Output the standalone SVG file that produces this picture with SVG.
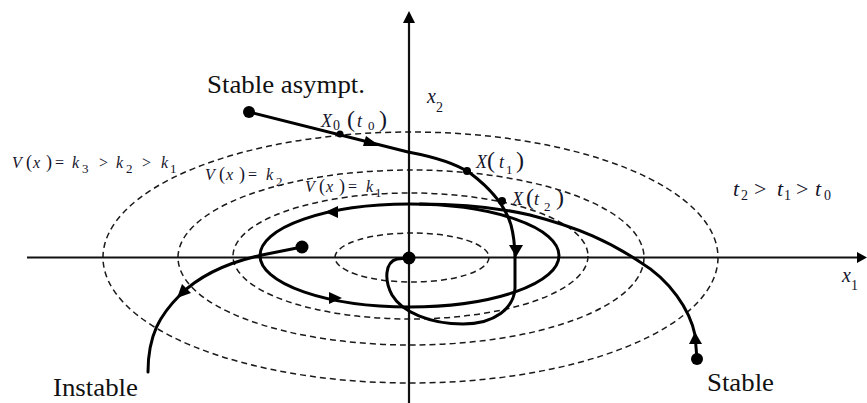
<svg xmlns="http://www.w3.org/2000/svg" width="867" height="403" viewBox="0 0 867 403">
<style>
.lvl{fill:none;stroke:#1a1a1a;stroke-width:1.5;stroke-dasharray:6 4}
.ax{stroke:#111;stroke-width:2.2;fill:none}
.tr{fill:none;stroke:#000;stroke-width:3;stroke-linejoin:round;stroke-linecap:round}
.ah{fill:#000}
.lab{font-family:'Liberation Serif','DejaVu Serif',serif;font-size:25px;fill:#111}
.m{font-family:'Liberation Serif','DejaVu Serif',serif;font-style:italic;fill:#14142a}
.up{font-style:normal}
</style>
<g id="levels">
<ellipse class="lvl" cx="412" cy="257.5" rx="77" ry="24.5"/>
<ellipse class="lvl" cx="410.5" cy="256" rx="177.5" ry="63"/>
<ellipse class="lvl" cx="411" cy="257.5" rx="233" ry="87.5"/>
<ellipse class="lvl" cx="410.5" cy="257.5" rx="307.5" ry="125.5"/>
</g>
<g id="axes">
<line class="ax" x1="27" y1="257.5" x2="859" y2="257.5"/>
<polygon class="ah" points="867,257.5 857,252 857,263"/>
<line class="ax" x1="409" y1="403" x2="409" y2="22"/>
<polygon class="ah" points="409,11 403,23 415,23"/>
</g>
<g id="connectors">
<ellipse class="tr" cx="409.5" cy="255.5" rx="149.5" ry="51.5"/>
<path class="tr" d="M249,112 L408,152 C435,157 455,163 470,173 C490,188 505,205 511,225 C515,240 515,250 515,260 L515,288 C514,308 495,324 463,324 C430,324 402,312 392,295 C384,280 385,262 397,259 L408,258"/>
<path class="tr" d="M697,359 L695,335 C690,310 670,280 640,262 C610,242 580,228 530,215 C500,208 460,204 420,204"/>
<path class="tr" d="M302,247 L262,255 C230,262 200,275 180,295 C160,315 148,335 148,372"/>
<polygon class="ah" points="380,146 366,136 363,146"/>
<polygon class="ah" points="516,257 509,245 523,245"/>
<polygon class="ah" points="325,212 338,206 338,218"/>
<polygon class="ah" points="342,298 329,292 329,304"/>
<polygon class="ah" points="695,332 689,344 702,344"/>
<polygon class="ah" points="177,298 182,284 191,293"/>
</g>
<g id="points">
<circle cx="249" cy="112" r="6"/>
<circle cx="302" cy="247" r="6.5"/>
<circle cx="409" cy="258" r="6.5"/>
<circle cx="697" cy="359" r="6"/>
<circle cx="340" cy="134" r="3.5"/>
<circle cx="467" cy="171" r="4"/>
<circle cx="502" cy="201" r="4"/>
</g>
<g id="labels">
<text class="lab" x="207" y="93" textLength="158" lengthAdjust="spacingAndGlyphs">Stable asympt.</text>
<text class="lab" x="53" y="396" textLength="85" lengthAdjust="spacingAndGlyphs">Instable</text>
<text class="lab" x="707" y="391" textLength="67" lengthAdjust="spacingAndGlyphs">Stable</text>
<text class="m" x="427" y="103" font-size="20">x<tspan font-size="14" dy="9" class="up">2</tspan></text>
<text class="m" x="842" y="282" font-size="20">x<tspan font-size="14" dy="8" class="up">1</tspan></text>
<text class="m" y="127" font-size="18"><tspan x="321">X</tspan><tspan class="up" font-size="14" x="333" y="130">0</tspan><tspan class="up" font-size="24" x="347" y="127">(</tspan><tspan x="357">t</tspan><tspan class="up" font-size="13" x="368" y="130">0</tspan><tspan class="up" font-size="24" x="379" y="127">)</tspan></text>
<text class="m" y="168" font-size="18"><tspan x="476">X</tspan><tspan class="up" font-size="24" x="487">(</tspan><tspan x="499">t</tspan><tspan class="up" font-size="13" x="506" y="174">1</tspan><tspan class="up" font-size="24" x="516" y="168">)</tspan></text>
<text class="m" y="205" font-size="18"><tspan x="512">X</tspan><tspan class="up" font-size="24" x="526">(</tspan><tspan x="534">t</tspan><tspan class="up" font-size="13" x="544" y="211">2</tspan><tspan class="up" font-size="24" x="556" y="205">)</tspan></text>
<text class="m" y="196" font-size="22"><tspan x="733">t</tspan><tspan class="up" font-size="14" x="741" y="200">2</tspan><tspan class="up" x="754" y="196">&gt;</tspan><tspan x="777">t</tspan><tspan class="up" font-size="14" x="784" y="200">1</tspan><tspan class="up" x="796" y="196">&gt;</tspan><tspan x="815">t</tspan><tspan class="up" font-size="14" x="824" y="200">0</tspan></text>
<text class="m" y="168" font-size="16"><tspan x="12">V</tspan><tspan class="up" font-size="18" x="26">(</tspan><tspan x="33">x</tspan><tspan class="up" font-size="18" x="46">)</tspan><tspan class="up" x="55">=</tspan><tspan x="72">k</tspan><tspan class="up" font-size="13" x="82" y="173">3</tspan><tspan class="up" x="99" y="168">&gt;</tspan><tspan x="116">k</tspan><tspan class="up" font-size="13" x="126" y="173">2</tspan><tspan class="up" x="142" y="168">&gt;</tspan><tspan x="161">k</tspan><tspan class="up" font-size="13" x="170" y="173">1</tspan></text>
<text class="m" y="180" font-size="16"><tspan x="205">V</tspan><tspan class="up" font-size="18" x="219">(</tspan><tspan x="226">x</tspan><tspan class="up" font-size="18" x="239">)</tspan><tspan class="up" x="248">=</tspan><tspan x="266">k</tspan><tspan class="up" font-size="13" x="276" y="186">2</tspan></text>
<text class="m" y="192" font-size="16"><tspan x="305">V</tspan><tspan class="up" font-size="18" x="319">(</tspan><tspan x="326">x</tspan><tspan class="up" font-size="18" x="339">)</tspan><tspan class="up" x="348">=</tspan><tspan x="366">k</tspan><tspan class="up" font-size="13" x="375" y="197">1</tspan></text>
</g>
</svg>
